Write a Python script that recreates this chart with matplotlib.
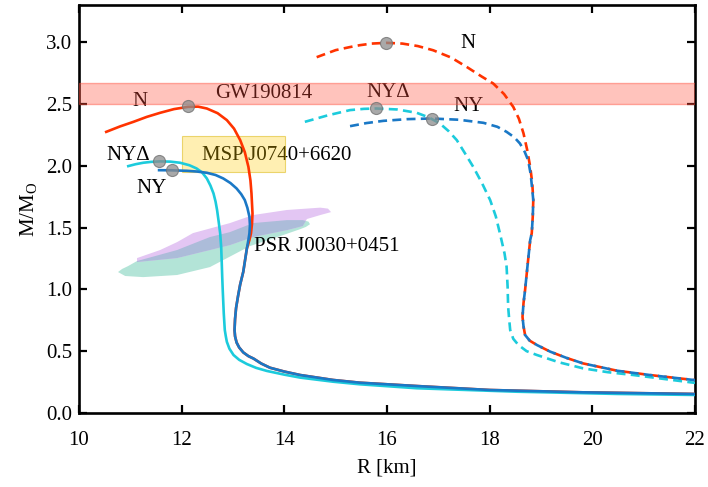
import matplotlib
matplotlib.use("Agg")
import matplotlib.pyplot as plt
from matplotlib.patches import Polygon, Rectangle
import numpy as np

plt.rcParams['font.family'] = ['Liberation Serif', 'DejaVu Serif']
plt.rcParams['mathtext.fontset'] = 'custom'
plt.rcParams['mathtext.rm'] = 'Liberation Serif'

# ---------------- data ----------------
# solid curves
R_N_solid = [10.53, 10.80, 11.06, 11.32, 11.58, 11.85, 12.12, 12.32, 12.49, 12.70, 12.88, 13.02, 13.14,
             13.23, 13.30, 13.34, 13.36, 13.38, 13.37, 13.35, 13.32, 13.27, 13.20, 13.14, 13.10, 13.06,
             13.04, 13.03, 13.04, 13.07, 13.12, 13.20, 13.30, 13.40, 13.55, 13.72, 14.00, 14.31, 14.95,
             15.47, 16.58, 18.0, 19.82, 21.96, 22.0]
M_N_solid = [2.274, 2.318, 2.355, 2.395, 2.428, 2.458, 2.476, 2.478, 2.463, 2.425, 2.369, 2.300, 2.207,
             2.110, 1.991, 1.880, 1.776, 1.614, 1.530, 1.453, 1.400, 1.330, 1.142, 1.040, 0.950, 0.850,
             0.760, 0.671, 0.620, 0.570, 0.530, 0.490, 0.460, 0.440, 0.400, 0.366, 0.335, 0.307, 0.267,
             0.245, 0.218, 0.186, 0.167, 0.154, 0.153]

R_NY_solid = [11.56, 11.80, 12.10, 12.30, 12.49, 12.66, 12.81, 12.95, 13.07, 13.16, 13.23, 13.28, 13.32,
              13.33, 13.32, 13.30, 13.27, 13.20, 13.14, 13.10, 13.06, 13.04, 13.03, 13.04, 13.07, 13.12,
              13.20, 13.30, 13.40, 13.55, 13.72, 14.00, 14.31, 14.95, 15.47, 16.58, 18.0, 19.82, 21.96, 22.0]
M_NY_solid = [1.964, 1.963, 1.959, 1.953, 1.943, 1.925, 1.897, 1.860, 1.816, 1.770, 1.722, 1.660, 1.587,
              1.520, 1.453, 1.400, 1.330, 1.142, 1.040, 0.950, 0.850, 0.760, 0.671, 0.620, 0.570, 0.530,
              0.490, 0.460, 0.440, 0.400, 0.366, 0.335, 0.307, 0.267, 0.245, 0.218, 0.186, 0.167, 0.154, 0.153]

R_NYD_solid = [10.96, 11.10, 11.25, 11.40, 11.58, 11.78, 11.97, 12.15, 12.29, 12.40, 12.49, 12.56, 12.62,
               12.66, 12.69, 12.72, 12.75, 12.77, 12.78, 12.79, 12.80, 12.82, 12.84, 12.86, 12.88, 12.93,
               13.01, 13.12, 13.27, 13.45, 13.66, 14.00, 14.31, 14.95, 15.47, 16.58, 18.53, 20.48, 21.96, 22.0]
M_NYD_solid = [1.997, 2.012, 2.024, 2.031, 2.035, 2.033, 2.024, 2.004, 1.978, 1.945, 1.897, 1.840, 1.776,
               1.710, 1.641, 1.550, 1.453, 1.340, 1.223, 1.100, 0.994, 0.806, 0.671, 0.620, 0.576, 0.520,
               0.469, 0.430, 0.396, 0.365, 0.340, 0.310, 0.286, 0.253, 0.232, 0.200, 0.172, 0.154, 0.146, 0.146]

# dashed curves
R_N_dash = [14.63, 15.00, 15.28, 15.47, 15.70, 15.99, 16.30, 16.60, 16.90, 17.25, 17.55, 17.85, 18.07,
            18.28, 18.46, 18.57, 18.66, 18.73, 18.79, 18.83, 18.85, 18.84, 18.82, 18.79, 18.74, 18.69,
            18.66, 18.64, 18.66, 18.69, 18.78, 18.92, 19.18, 19.50, 19.82, 20.48, 21.12, 21.97, 22.0]
M_N_dash = [2.878, 2.935, 2.960, 2.975, 2.988, 2.994, 2.988, 2.968, 2.934, 2.875, 2.800, 2.720, 2.665,
            2.580, 2.476, 2.380, 2.261, 2.130, 1.991, 1.860, 1.722, 1.590, 1.453, 1.399, 1.200, 0.994,
            0.890, 0.778, 0.700, 0.631, 0.585, 0.550, 0.496, 0.445, 0.401, 0.342, 0.307, 0.267, 0.266]

R_NY_dash = [15.28, 15.60, 15.93, 16.40, 16.87, 17.40, 17.88, 18.15, 18.33, 18.48, 18.59, 18.68, 18.75,
             18.80, 18.85, 18.84, 18.82, 18.79, 18.74, 18.69, 18.66, 18.64, 18.66, 18.69, 18.78, 18.92,
             19.18, 19.50, 19.82, 20.48, 21.12, 21.97, 22.0]
M_NY_dash = [2.320, 2.345, 2.363, 2.377, 2.382, 2.372, 2.347, 2.315, 2.274, 2.230, 2.180, 2.115, 2.045,
             1.930, 1.722, 1.590, 1.453, 1.399, 1.200, 0.994, 0.890, 0.778, 0.700, 0.631, 0.585, 0.550,
             0.496, 0.445, 0.401, 0.342, 0.307, 0.267, 0.266]

R_NYD_dash = [14.40, 14.85, 15.28, 15.55, 15.79, 16.20, 16.58, 16.82, 17.03, 17.20, 17.36, 17.52, 17.68,
              17.85, 18.01, 18.12, 18.20, 18.23, 18.29, 18.33, 18.35, 18.36, 18.38, 18.40, 18.46, 18.56,
              18.72, 18.92, 19.35, 19.82, 20.30, 20.80, 21.40, 21.97, 22.0]
M_NYD_dash = [2.355, 2.408, 2.450, 2.460, 2.463, 2.455, 2.428, 2.390, 2.342, 2.280, 2.207, 2.100, 1.991,
              1.860, 1.722, 1.590, 1.453, 1.399, 1.290, 1.183, 1.020, 0.859, 0.760, 0.671, 0.600, 0.550,
              0.500, 0.469, 0.410, 0.361, 0.330, 0.307, 0.275, 0.245, 0.244]

# maximum-mass markers
dot_R = [12.12, 11.81, 11.56, 15.99, 16.87, 15.79]
dot_M = [2.48, 1.965, 2.037, 2.994, 2.382, 2.463]

# observational constraints
gw_M_low, gw_M_high = 2.50, 2.67
msp_R_low, msp_R_high = 12.0, 14.01
msp_M_low, msp_M_high = 1.95, 2.24

psr_green_R = [10.76, 10.84, 10.955, 11.13, 11.91, 12.55, 12.94, 13.39, 14.05, 14.36, 14.47, 14.50,
               14.42, 14.31, 13.92, 13.33, 12.55, 11.91, 11.25, 10.90]
psr_green_M = [1.140, 1.165, 1.188, 1.229, 1.318, 1.423, 1.463, 1.536, 1.560, 1.560, 1.548, 1.527,
               1.505, 1.487, 1.431, 1.350, 1.180, 1.116, 1.099, 1.108]
psr_purple_R = [11.13, 11.58, 11.91, 12.22, 12.94, 13.39, 14.05, 14.70, 14.85, 14.91,
                14.70, 14.44, 14.36, 14.05, 13.39, 12.94, 12.55, 11.91, 11.13]
psr_purple_M = [1.253, 1.318, 1.382, 1.455, 1.536, 1.601, 1.642, 1.661, 1.653, 1.625,
                1.601, 1.569, 1.512, 1.479, 1.423, 1.358, 1.318, 1.253, 1.221]

# labels
labels = [
    ("N", 11.19, 2.522),
    ("GW190814", 13.60, 2.587),
    ("NYΔ", 10.96, 2.086),
    ("NY", 11.42, 1.816),
    ("MSP J0740+6620", 13.85, 2.086),
    ("PSR J0030+0451", 14.83, 1.35),
    ("N", 17.58, 2.99),
    ("NYΔ", 16.03, 2.59),
    ("NY", 17.58, 2.48),
]

x_ticks = [10, 12, 14, 16, 18, 20, 22]
y_ticks = [0.0, 0.5, 1.0, 1.5, 2.0, 2.5, 3.0]

# ---------------- plot ----------------
RED = '#ff3300'
BLUE = '#1a78c6'
CYAN = '#1ccbdc'

fig = plt.figure(figsize=(7.08, 4.87), dpi=100)
ax = fig.add_axes([0.1116, 0.152, 0.8700, 0.8377])

# PSR contours
green = Polygon(np.column_stack([psr_green_R, psr_green_M]), closed=True,
                facecolor='#b3e4d7', edgecolor='none', zorder=1)
ax.add_patch(green)
purple = Polygon(np.column_stack([psr_purple_R, psr_purple_M]), closed=True,
                 facecolor='#e3c6f3', edgecolor='none', zorder=1.1)
ax.add_patch(purple)
overlap = Polygon(np.column_stack([psr_purple_R, psr_purple_M]), closed=True,
                  facecolor='#acbcd9', edgecolor='none', zorder=1.2)
ax.add_patch(overlap)
overlap.set_clip_path(green)

# labels (under the bands)
for txt, x, y in labels:
    ax.text(x, y, txt, fontsize=15, ha='center', va='center', color='black', zorder=2)

# MSP box
msp = Rectangle((msp_R_low, msp_M_low), msp_R_high - msp_R_low, msp_M_high - msp_M_low,
                facecolor=(1.0, 0.80, 0.0, 0.30), edgecolor=(0.85, 0.70, 0.0, 0.5),
                linewidth=0.8, zorder=2.2)
ax.add_patch(msp)

# GW band
ax.axhspan(gw_M_low, gw_M_high, facecolor=(1.0, 0.31, 0.24, 0.34),
           edgecolor=(1.0, 0.31, 0.24, 0.45), linewidth=1.0, zorder=3)

lw = 1.9
dash = (0, (3.4, 2.0))
ax.plot(R_N_solid, M_N_solid, color=RED, lw=lw, zorder=4)
ax.plot(R_NYD_solid, M_NYD_solid, color=CYAN, lw=lw, zorder=4.1)
ax.plot(R_NY_solid, M_NY_solid, color=BLUE, lw=lw, zorder=4.2)
ax.plot(R_N_dash, M_N_dash, color=RED, lw=lw, ls=dash, zorder=4)
ax.plot(R_NYD_dash, M_NYD_dash, color=CYAN, lw=lw, ls=dash, zorder=4.1)
ax.plot(R_NY_dash, M_NY_dash, color=BLUE, lw=lw, ls=dash, zorder=4.2)

ax.scatter(dot_R, dot_M, s=75, facecolor=(0.55, 0.55, 0.55, 0.75),
           edgecolor=(0.45, 0.45, 0.45, 0.8), linewidth=0.8, zorder=5)

ax.set_xlim(10, 22)
ax.set_ylim(0, 3.3)
ax.set_xticks(x_ticks)
ax.set_yticks(y_ticks)
ax.set_xticklabels([str(v) for v in x_ticks])
ax.set_yticklabels([f"{v:.1f}" for v in y_ticks])
ax.tick_params(direction='in', length=6, width=1.6, top=True, right=True,
               labelsize=15)
ax.tick_params(axis='x', pad=13)
ax.tick_params(axis='y', pad=5)
for s in ax.spines.values():
    s.set_linewidth(1.9)

ax.set_xlabel("R [km]", fontsize=15, labelpad=6)
ax.set_ylabel(r"M/M$_\mathregular{O}$", fontsize=15, labelpad=4)

fig.savefig("out.png", dpi=100)
